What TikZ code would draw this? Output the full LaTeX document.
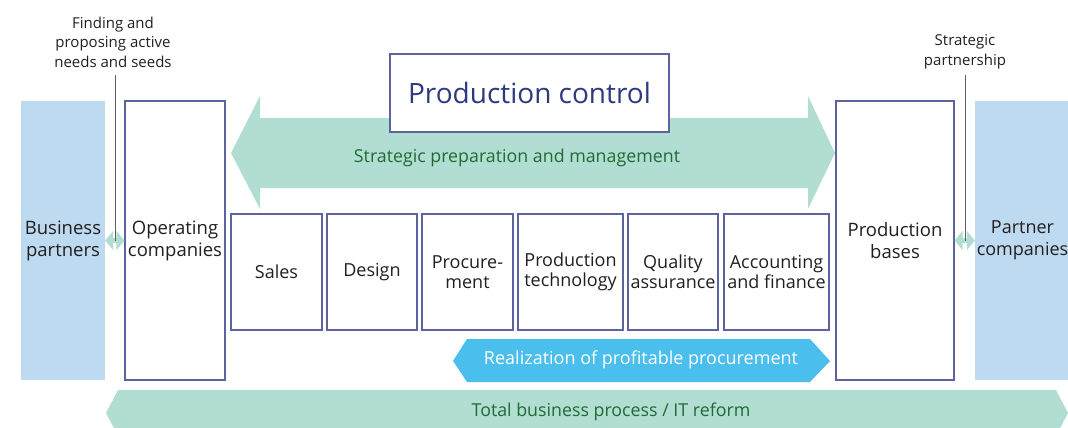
\documentclass[tikz,border=0pt]{standalone}
\usepackage{fontspec}
\setmainfont{Open Sans}
\usetikzlibrary{arrows.meta}
\definecolor{lblue}{HTML}{BDDAF0}
\definecolor{teal}{HTML}{B2DDD3}
\definecolor{sky}{HTML}{4ABEEC}
\definecolor{navy}{HTML}{5B649C}
\definecolor{title}{HTML}{2D3A80}
\definecolor{dgreen}{HTML}{1F6B35}
\definecolor{ink}{HTML}{231F20}
\definecolor{lgray}{HTML}{606060}
\tikzset{
  partner/.style={fill=lblue,draw=none,minimum width=#1,minimum height=279pt,inner sep=0pt,align=center,text=ink,font=\fontsize{18.5}{22}\selectfont},
  unit/.style={fill=white,draw=navy,line width=1.1pt,minimum width=#1,minimum height=279pt,inner sep=0pt,align=center,text=ink,font=\fontsize{18.5}{22}\selectfont},
  dept/.style={fill=white,draw=navy,line width=1.1pt,minimum width=#1,minimum height=116pt,inner sep=0pt,align=center,text=ink,font=\fontsize{18}{20}\selectfont},
  note/.style={align=center,text=ink,font=\fontsize{15}{19.5}\selectfont,inner sep=0pt},
  bandtext/.style={text=dgreen,font=\fontsize{17.8}{20}\selectfont,inner sep=0pt},
  smallarr/.style={draw=teal,line width=5pt,{Triangle[width=19pt,length=8pt]}-{Triangle[width=19pt,length=8pt]},shorten <=0pt,shorten >=0pt},
  leader/.style={draw=lgray,line width=1pt},
}
\begin{document}
\begin{tikzpicture}[x=1pt,y=-1pt]
\useasboundingbox (0,0) rectangle (1068,428);
\clip (0,0) rectangle (1068,428);
% big double arrow
\fill[teal] (231,153) -- (260,96) -- (260,118) -- (808,118) -- (808,96) -- (835,153) -- (808,209) -- (808,188) -- (260,188) -- (260,209) -- cycle;
% bottom bar
\fill[teal] (106,413) -- (118,390) -- (1056,390) -- (1068,413) -- (1056,436) -- (118,436) -- cycle;
% realization arrow
\fill[sky] (453,361) -- (467,339) -- (810,339) -- (830,361) -- (810,382) -- (467,382) -- cycle;

\node[partner=84pt] (bp) at (63,240.5) {Business\\partners};
\node[unit=100pt] (oc) at (175,240.5) {Operating\\companies};
\node[unit=118pt] (pb) at (895,240.5) {Production\\bases};
\node[partner=93pt] (pc) at (1021.5,240.5) {};
\node[align=center,inner sep=0pt,text=ink,font=\fontsize{18}{22}\selectfont] (pcl) at (1022.5,240.5) {Partner\\companies};

\node[dept=91pt] (sales) at (276.5,272) {Sales};
\node[dept=90pt] (design) at (372,272) {Design};
\node[dept=91pt] (proc) at (467.5,272) {Procure-\\ment};
\node[dept=105pt] (ptech) at (570.5,272) {Production\\technology};
\node[dept=90pt] (qa) at (673,272) {Quality\\assurance};
\node[dept=105pt] (acc) at (776.5,272) {Accounting\\and finance};

\node[fill=white,draw=navy,line width=1.1pt,minimum width=279pt,minimum height=78pt,inner sep=0pt,text=title,font=\fontsize{28}{32}\selectfont] (pctl) at (529.5,93) {Production control};

\node[bandtext] (spm) at (517,158) {Strategic preparation and management};
\node[bandtext] (tbp) at (611,412) {Total business process / IT reform};
\node[text=white,font=\fontsize{18}{20}\selectfont,inner sep=0pt] (rpp) at (641,360) {Realization of profitable procurement};

\node[note] (n1) at (113,42) {Finding and\\proposing active\\needs and seeds};
\node[note] (n2) at (965,52) {Strategic\\partnership};

\draw[smallarr] (bp.east) -- (oc.west);
\draw[smallarr] (pb.east) -- (pc.west);
\coordinate (c1top) at (115,75);
\coordinate (c1) at (115,240.5);
\coordinate (c2top) at (965,75);
\coordinate (c2) at (965,240.5);
\draw[leader] (c1top) -- (c1);
\draw[leader] (c2top) -- (c2);
\end{tikzpicture}
\end{document}
